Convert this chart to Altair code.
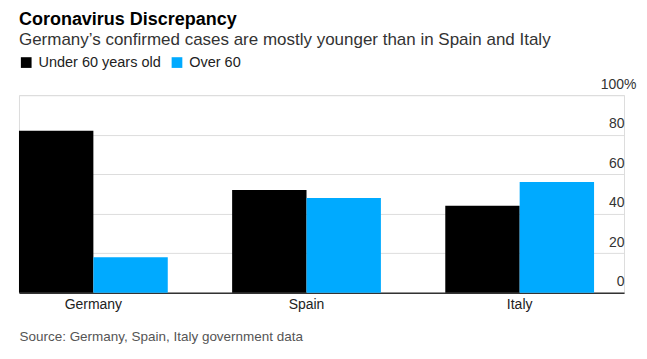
import altair as alt
import pandas as pd

countries = ["Germany", "Spain", "Italy"]
groups = ["Under 60 years old", "Over 60"]
under60 = [82, 52, 44]
over60 = [18, 48, 56]
y_ticks = [0, 20, 40, 60, 80, 100]

rows = []
for c, u, o in zip(countries, under60, over60):
    rows.append({"country": c, "group": groups[0], "value": u})
    rows.append({"country": c, "group": groups[1], "value": o})
df = pd.DataFrame(rows)

FONT = "Liberation Sans"

bars = alt.Chart(df).mark_bar().encode(
    x=alt.X("country:N", sort=countries,
            scale=alt.Scale(paddingInner=0.302, paddingOuter=0.0703, align=0),
            axis=alt.Axis(title="Source: Germany, Spain, Italy government data",
                          titleAnchor="start", titleAlign="left",
                          titleFontSize=13.5, titleFontWeight="normal",
                          titleColor="#555555", titleFont=FONT, titlePadding=18,
                          labelAngle=0, labelFontSize=14, labelColor="#222222",
                          labelFont=FONT, labelPadding=5,
                          ticks=False, domainColor="#333333", domainWidth=1.5,
                          grid=False)),
    xOffset=alt.XOffset("group:N", sort=groups),
    y=alt.Y("value:Q", scale=alt.Scale(domain=[0, 100], nice=False),
            axis=alt.Axis(orient="right", values=y_ticks, title=None,
                          domain=False, ticks=False, grid=True,
                          gridColor="#dddddd", gridWidth=1,
                          labelAlign="right", labelBaseline="alphabetic",
                          labelOffset=-7,
                          labelPadding={"condition": {"test": "datum.value == 100", "value": 12}, "value": 0},
                          labelExpr="datum.value == 100 ? '100%' : datum.label",
                          labelFontSize=14, labelColor="#333333", labelFont=FONT)),
    color=alt.Color("group:N", sort=groups,
                    scale=alt.Scale(domain=groups, range=["#000000", "#00aaff"]),
                    legend=alt.Legend(title=None, orient="none", legendX=0, legendY=-40,
                                      direction="horizontal", symbolType="square",
                                      symbolSize=115, symbolStrokeWidth=0,
                                      labelFontSize=14.5, labelFont=FONT,
                                      labelColor="#222222", labelOffset=5,
                                      columnPadding=8, padding=0)),
)

chart = bars.properties(
    width=606, height=198,
    autosize=alt.AutoSizeParams(type="none"),
    padding={"left": 11, "top": 87, "right": 15, "bottom": 60},
    title=alt.TitleParams(
        text="Coronavirus Discrepancy",
        subtitle="Germany\u2019s confirmed cases are mostly younger than in Spain and Italy",
        anchor="start", frame="group", offset=7,
        font=FONT, fontSize=18, fontWeight="bold", color="#000000",
        subtitleFont=FONT, subtitleFontSize=17, subtitleColor="#333333",
        subtitlePadding=3,
    ),
).configure_view(stroke=None).configure(background="white")

chart.save("out.html", embed_options={"renderer": "svg", "actions": False})
